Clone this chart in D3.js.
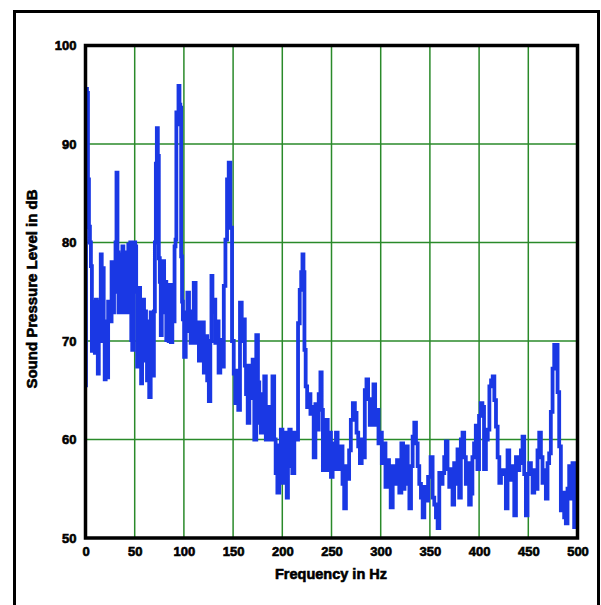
<!DOCTYPE html>
<html>
<head>
<meta charset="utf-8">
<script src="https://cdn.jsdelivr.net/npm/d3@7"></script>
<style>
  body { margin: 0; background: #fff; }
  .lbl { font-family: "Liberation Sans", Arial, sans-serif; font-weight: bold; fill: #000; stroke: #000; stroke-width: 0.6px; }
</style>
</head>
<body>
<div id="chart"></div>
<script>
// spectrum (Hz, dB)
var freq = [0,1,2,3,4,5,6,7,8,9,10,11,12,13,14,15,16,17,18,19,20,21,22,24,26,27,28,30,31,32,33,34,36,37,38,39,40,41,42,43,44,45,46,47,48,49,50,51,52,53,54,55,56,57,58,59,60,61,62,63,64,65.5,67,68,69,70,71,72,73,74,75,76,77,78,
  79.3,80.5,81.5,82.7,84,85,86,87.5,89,90,91,92,92.7,94,95,96,96.7,97.7,98.5,99.4,101,102.7,104.4,106,107.7,109,111,112.8,114.5,116,117.5,119.5,121,122.8,124.5,126.2,127.5,128.5,129.5,131,132.8,134.5,136,138,139.7,141.4,143,144.7,146.4,148,149.8,151.5,153,154.5,156,158,159.5,
  161.5,162.3,164,165.7,167.3,169,170.7,172.4,174.7,175.8,177.4,179,180.8,182.5,184,185.8,187.5,189,191,192.5,194,196,197.7,199.3,201,202.7,204,205,206.5,207.7,209.4,211,213.4,215,217,218.4,220,221,222,223,224.5,226,227.8,229.4,231,232.8,234.5,236,238,239.5,240.5,
  242,243.6,245.3,247,248.6,250.3,252,253.7,255.4,257,258.7,260.4,262,263.8,265.5,267,268.8,270.5,272.9,274.6,276.3,278,279.7,281.7,283,284.7,286.4,288,289.8,291.8,293.5,295.2,296.9,298.6,300.3,302,303.7,306,307.6,309.3,311,313.4,315.4,317.8,320,322,
  323.5,324.9,326.6,328.3,330,331.6,333.3,335,336.7,338.4,340,341.8,343.5,345.2,346.8,349.5,351.9,353.6,355.3,357,358.7,360.4,362,363.7,365.4,367,368.8,370.5,372.2,373.8,375.5,377.2,378.9,380.6,382.3,384,385.7,387.3,389,390.7,392.4,394,395.8,397.5,399.1,400.8,402.5,404.2,
  405.8,408,409.6,411.3,413,414.7,416.3,418,419.7,421.4,423,424.7,426.4,428,429.8,431.5,433,434.9,436.6,438.3,440,441.7,443.3,445,446.7,448.4,450,451.8,453.5,455.2,456.9,458.5,460.2,462,463.6,465.3,467,468.7,470.4,472,473.8,475.5,477.2,478.9,480.6,482.2,484,485.6,487.3,489,490.7,492.4,494,495.8,497.4,499.1,500];
var spl = [65.5,95.6,95.2,86.4,81.6,80,77.6,69,74,72,68.8,74.2,72,66.7,74,70,78.8,72.2,77.4,70,66.1,72,66.3,74,72,78,72.9,75,80,87.1,79,72.9,78.8,73,79.6,72.9,78,74.5,79,72.9,79.8,74.5,80,70.1,69.1,75,80,79.6,75.4,67.4,72,75.4,69,65.7,71,74.2,68,73,70,66,72,64.3,72.9,70,66.5,73,80,88,91.6,88.8,78.4,76,70.6,74,
  78.1,72.9,76,70.1,74,70,75.7,69.9,75.6,72,79.6,80.3,93.2,92,95.9,94,93.7,78.6,74,72.2,68.4,72.9,74.9,71,69.8,73,75.9,69.8,71.9,68,71,71.9,66.8,70.5,66,63.9,70,76.6,73,74.2,69.8,72,66.8,70.1,67.4,75.6,80.3,86.4,88.1,81.5,70,66.7,63.7,67,63,73.9,70,
  72.2,67.5,64.6,61.7,67.5,64.2,68.1,60,70.6,65.8,61.7,60.7,64.6,66.4,60,63.3,60,63,66.4,60,56.6,54.6,59.4,61,55.6,60.7,57,54.1,58,61,57.3,56.6,60.7,60,71.8,75.2,77,78.8,77,69.1,65.4,63.3,64.6,62.6,63.3,58.2,63.6,61,64.6,66.8,63,
  56.9,59.6,62,56.9,60.7,56.2,59.6,57,60.7,57.3,57,59.3,55.5,53,57.3,56,58.9,62,63.7,62.7,60.7,59.3,57.6,60,58.2,65,66.1,64.1,61.5,63,65.6,61.5,63,59.6,60.7,57.6,59.6,55.2,57.9,55.2,53.1,57.3,55.5,57.9,54.6,59.6,
  55,57.5,59.3,55.5,53,57.3,60.3,61.7,59.6,57.3,55.5,54.1,52.1,55.2,53.8,56.2,58.2,54.1,53.4,52.1,51,56.6,55.5,56.6,58.2,59.8,57,55.2,57,53.4,57.6,55.5,59,54.1,60,60.7,58.2,55.5,57.6,53.4,54.5,58.2,59.6,61.4,57,62.4,63.7,63.3,
  57,60,61,65.4,66,66.4,64,61.3,58.2,55.6,56.9,56.5,56.9,53,58.9,55.9,57.3,56.9,52.3,58.2,56.9,57.6,58.9,60.3,56.5,52.3,56.5,57.6,56.9,54.6,56.9,55,58.9,60.7,58.2,55.6,56.9,54,57.6,58.6,62.8,67.2,69.6,69.6,64.8,59.3,52.8,54.6,52.1,51.5,55,57.3,54,57.6,51.1,55,52];

var xTicks = [0,50,100,150,200,250,300,350,400,450,500];
var yTicks = [50,60,70,80,90,100];
var xTitle = "Frequency in Hz";
var yTitle = "Sound Pressure Level in dB";

var width = 601, height = 605;
var margin = {top: 45.5, right: 23.5, bottom: 67, left: 85.5};

var svg = d3.select("#chart").append("svg")
  .attr("width", width)
  .attr("height", height);

// outer frame
svg.append("rect")
  .attr("x", 14.5).attr("y", 11.5)
  .attr("width", 584).attr("height", 620)
  .attr("fill", "none").attr("stroke", "#000").attr("stroke-width", 3);

var x = d3.scaleLinear().domain([0, 500]).range([margin.left, width - margin.right]);
var y = d3.scaleLinear().domain([50, 100]).range([height - margin.bottom, margin.top]);

// grid
svg.append("g").selectAll("line").data(xTicks.slice(1, -1)).enter().append("line")
  .attr("x1", function(d) { return x(d); }).attr("x2", function(d) { return x(d); })
  .attr("y1", y(50)).attr("y2", y(100))
  .attr("stroke", "#2a8a2a").attr("stroke-width", 1.5);
svg.append("g").selectAll("line").data(yTicks.slice(1, -1)).enter().append("line")
  .attr("x1", x(0)).attr("x2", x(500))
  .attr("y1", function(d) { return y(d); }).attr("y2", function(d) { return y(d); })
  .attr("stroke", "#2a8a2a").attr("stroke-width", 1.5);

// the spectrum
var pts = freq.map(function(f, i) { return [f, spl[i]]; });
var line = d3.line()
  .curve(d3.curveStep)
  .x(function(d) { return x(d[0]); })
  .y(function(d) { return y(d[1]); });
svg.append("path")
  .datum(pts)
  .attr("d", line)
  .attr("fill", "none")
  .attr("stroke", "#1a38e4")
  .attr("stroke-width", 3.8)
  .attr("stroke-linejoin", "miter");

// plot frame
svg.append("rect")
  .attr("x", x(0)).attr("y", y(100))
  .attr("width", x(500) - x(0)).attr("height", y(50) - y(100))
  .attr("fill", "none").attr("stroke", "#000").attr("stroke-width", 3.5);

// axes (labels only)
var yAxis = svg.append("g")
  .attr("transform", "translate(" + x(0) + ",0)")
  .call(d3.axisLeft(y).tickValues(yTicks).tickSize(0).tickPadding(9));
yAxis.select(".domain").remove();
yAxis.selectAll("text").attr("class", "lbl").style("font-size", "13px");

var xAxis = svg.append("g")
  .attr("transform", "translate(0," + y(50) + ")")
  .call(d3.axisBottom(x).tickValues(xTicks).tickSize(0).tickPadding(9));
xAxis.select(".domain").remove();
xAxis.selectAll("text").attr("class", "lbl").style("font-size", "13px");

svg.append("text")
  .attr("class", "lbl")
  .attr("x", 331).attr("y", 579)
  .attr("text-anchor", "middle")
  .style("font-size", "14.5px")
  .text(xTitle);

svg.append("text")
  .attr("class", "lbl")
  .attr("transform", "translate(37,289) rotate(-90)")
  .attr("text-anchor", "middle")
  .style("font-size", "15px")
  .text(yTitle);
</script>
</body>
</html>
